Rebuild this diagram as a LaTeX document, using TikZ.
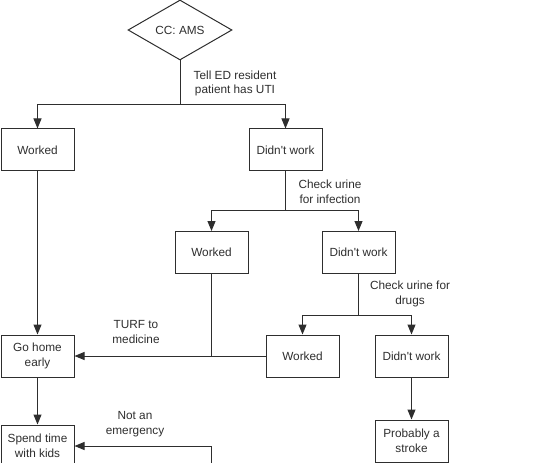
\documentclass[tikz,border=0pt]{standalone}
\usepackage{fontspec}
\setmainfont{Liberation Sans}
\usetikzlibrary{shapes.geometric,arrows.meta}

\begin{document}
\begin{tikzpicture}[x=1pt,y=-1pt,line width=1pt,color=black!82,
    every node/.style={font=\fontsize{11.8}{14.5}\selectfont},
    box/.style={draw,minimum width=73pt,minimum height=42pt,inner sep=1pt,align=center},
    choice/.style={draw,diamond,aspect=1.73,minimum width=104pt,minimum height=60pt,inner sep=0pt},
    note/.style={align=center},
    arr/.style={-{Triangle[length=10pt,width=8pt]}}]
    \useasboundingbox (0,0) rectangle (534,462);
    \clip (0,0) rectangle (534,462);
    \node[choice] (cc) at (180,30) {CC: AMS};
    \node[box] (w1) at (37.5,150) {Worked};
    \node[box] (d1) at (285.5,150) {Didn\textquotesingle t work};
    \node[box] (w2) at (211.5,252.5) {Worked};
    \node[box] (d2) at (358.5,252.5) {Didn\textquotesingle t work};
    \node[box] (w3) at (302.5,356) {Worked};
    \node[box] (d3) at (411.5,356) {Didn\textquotesingle t work};
    \node[box] (home) at (37.5,356) {Go home\\early};
    \node[box] (kids) at (37.5,446) {Spend time\\with kids};
    \node[box] (stroke) at (411.5,441) {Probably a\\stroke};
    \node[note] (uti) at (235,83.5) {Tell ED resident\\patient has UTI};
    \node[note] (inf) at (330,192) {Check urine\\for infection};
    \node[note] (drug) at (410,294) {Check urine for\\drugs};
    \node[note] (turf) at (136,332) {TURF to\\medicine};
    \node[note] (emerg) at (135,424) {Not an\\emergency};
    \coordinate (s1) at (180,105);
    \coordinate (s2) at (285.5,210);
    \coordinate (s3) at (358.5,315);
    \coordinate (s4) at (211.5,480);
    \draw (cc) -- (s1);
    \draw[arr] (s1) -| (w1);
    \draw[arr] (s1) -| (d1);
    \draw (d1) -- (s2);
    \draw[arr] (s2) -| (w2);
    \draw[arr] (s2) -| (d2);
    \draw (d2) -- (s3);
    \draw[arr] (s3) -| (w3);
    \draw[arr] (s3) -| (d3);
    \draw[arr] (w1) -- (home);
    \draw[arr] (w3) -- (home);
    \draw (w2) -- (w2 |- home);
    \draw[arr] (home) -- (kids);
    \draw[arr] (s4) |- (kids);
    \draw[arr] (d3) -- (stroke);
\end{tikzpicture}
\end{document}
